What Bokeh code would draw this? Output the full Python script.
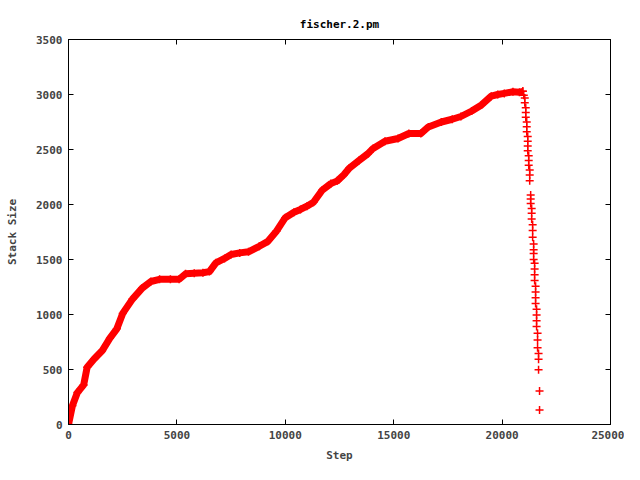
from bokeh.plotting import figure
from bokeh.models import Range1d, LinearAxis, FixedTicker, CustomJSTickFormatter
from bokeh.embed import file_html
from bokeh.resources import INLINE

# Rising part of the curve (step, stack size)
rise_step = [0, 180, 410, 700, 860, 1180, 1550, 1910, 2230, 2500, 2950, 3400, 3800,
             4200, 4700, 5100, 5400, 5800, 6200, 6500, 6800, 7200, 7500, 7900, 8300,
             8800, 9200, 9600, 10000, 10400, 10700, 11000, 11300, 11700, 12100, 12400,
             12700, 12950, 13400, 13800, 14050, 14600, 15200, 15700, 16250, 16600,
             17200, 17700, 18100, 18600, 19050, 19500, 19800, 20100, 20500, 20800, 20955]
rise_size = [0, 170, 290, 360, 520, 595, 670, 785, 870, 1010, 1140, 1240, 1300,
             1320, 1320, 1320, 1370, 1375, 1380, 1390, 1470, 1510, 1545, 1560, 1570,
             1620, 1665, 1760, 1880, 1930, 1955, 1985, 2020, 2130, 2190, 2215,
             2270, 2330, 2400, 2460, 2510, 2575, 2600, 2645, 2645, 2705,
             2750, 2775, 2800, 2850, 2905, 2985, 3000, 3010, 3025, 3020, 3029]

# Falling part (individual markers)
fall_step = [20955, 21000, 21045, 21045, 21091, 21091, 21091, 21136, 21136, 21136,
             21182, 21182, 21182, 21182, 21227, 21227, 21227, 21273, 21273, 21273,
             21318, 21318, 21318, 21364, 21364, 21364, 21409, 21409, 21409, 21455,
             21455, 21455, 21455, 21500, 21500, 21500, 21500, 21545, 21545, 21545,
             21545, 21591, 21591, 21591, 21591, 21636, 21636, 21636, 21682, 21682,
             21682, 21727, 21727]
fall_size = [3029, 2994, 2968, 2924, 2880, 2837, 2793, 2749, 2706, 2662,
             2618, 2575, 2531, 2488, 2444, 2400, 2357, 2313, 2269, 2217,
             2086, 2051, 2008, 1964, 1920, 1868, 1815, 1763, 1702, 1641,
             1589, 1554, 1501, 1466, 1414, 1362, 1309, 1257, 1204, 1152,
             1100, 1047, 995, 943, 890, 829, 768, 698, 646, 594,
             498, 305, 131]

x_ticks = [0, 5000, 10000, 15000, 20000, 25000]
y_ticks = [0, 500, 1000, 1500, 2000, 2500, 3000, 3500]

FONT = "DejaVu Sans Mono"
RED = "#ff0000"

p = figure(width=624, height=464, output_backend="svg", toolbar_location=None,
           x_range=Range1d(0, 25000), y_range=Range1d(0, 3500),
           title="fischer.2.pm", min_border_left=68, min_border_right=14,
           min_border_top=39, min_border_bottom=36)
p.title.align = "center"
p.title.text_font = FONT
p.title.text_font_style = "bold"
p.title.text_font_size = "11px"
p.title.text_color = "black"
p.title.standoff = 18

p.grid.visible = False
p.outline_line_color = "black"
p.outline_line_width = 1
p.background_fill_color = "white"
p.border_fill_color = "white"

p.xaxis.axis_label = "Step"
p.yaxis.axis_label = "Stack Size"
p.xaxis.ticker = FixedTicker(ticks=x_ticks)
p.yaxis.ticker = FixedTicker(ticks=y_ticks)

for ax in (p.xaxis[0], p.yaxis[0]):
    ax.axis_label_text_font = FONT
    ax.axis_label_text_font_style = "bold"
    ax.axis_label_text_font_size = "11px"
    ax.major_label_text_font = FONT
    ax.major_label_text_font_style = "bold"
    ax.major_label_text_font_size = "11px"
    ax.major_tick_in = 5
    ax.major_tick_out = 0
    ax.minor_tick_line_color = None
    ax.axis_line_color = "black"
    ax.major_label_standoff = 6

p.yaxis.axis_label_standoff = 14
p.xaxis.axis_label_standoff = 7

blank = CustomJSTickFormatter(code="return '';")
top = LinearAxis(ticker=FixedTicker(ticks=x_ticks), formatter=blank,
                 major_tick_in=5, major_tick_out=0, minor_tick_line_color=None,
                 major_label_standoff=0)
right = LinearAxis(ticker=FixedTicker(ticks=y_ticks), formatter=blank,
                   major_tick_in=5, major_tick_out=0, minor_tick_line_color=None,
                   major_label_standoff=0)
p.add_layout(top, "above")
p.add_layout(right, "right")

p.line(rise_step, rise_size, line_color=RED, line_width=7, line_join="round")
p.scatter(rise_step, rise_size, marker="cross", size=8, line_color=RED, line_width=1.5)
p.scatter(fall_step, fall_size, marker="cross", size=8, line_color=RED, line_width=1.5)

open("out.html", "w").write(file_html(p, INLINE))
